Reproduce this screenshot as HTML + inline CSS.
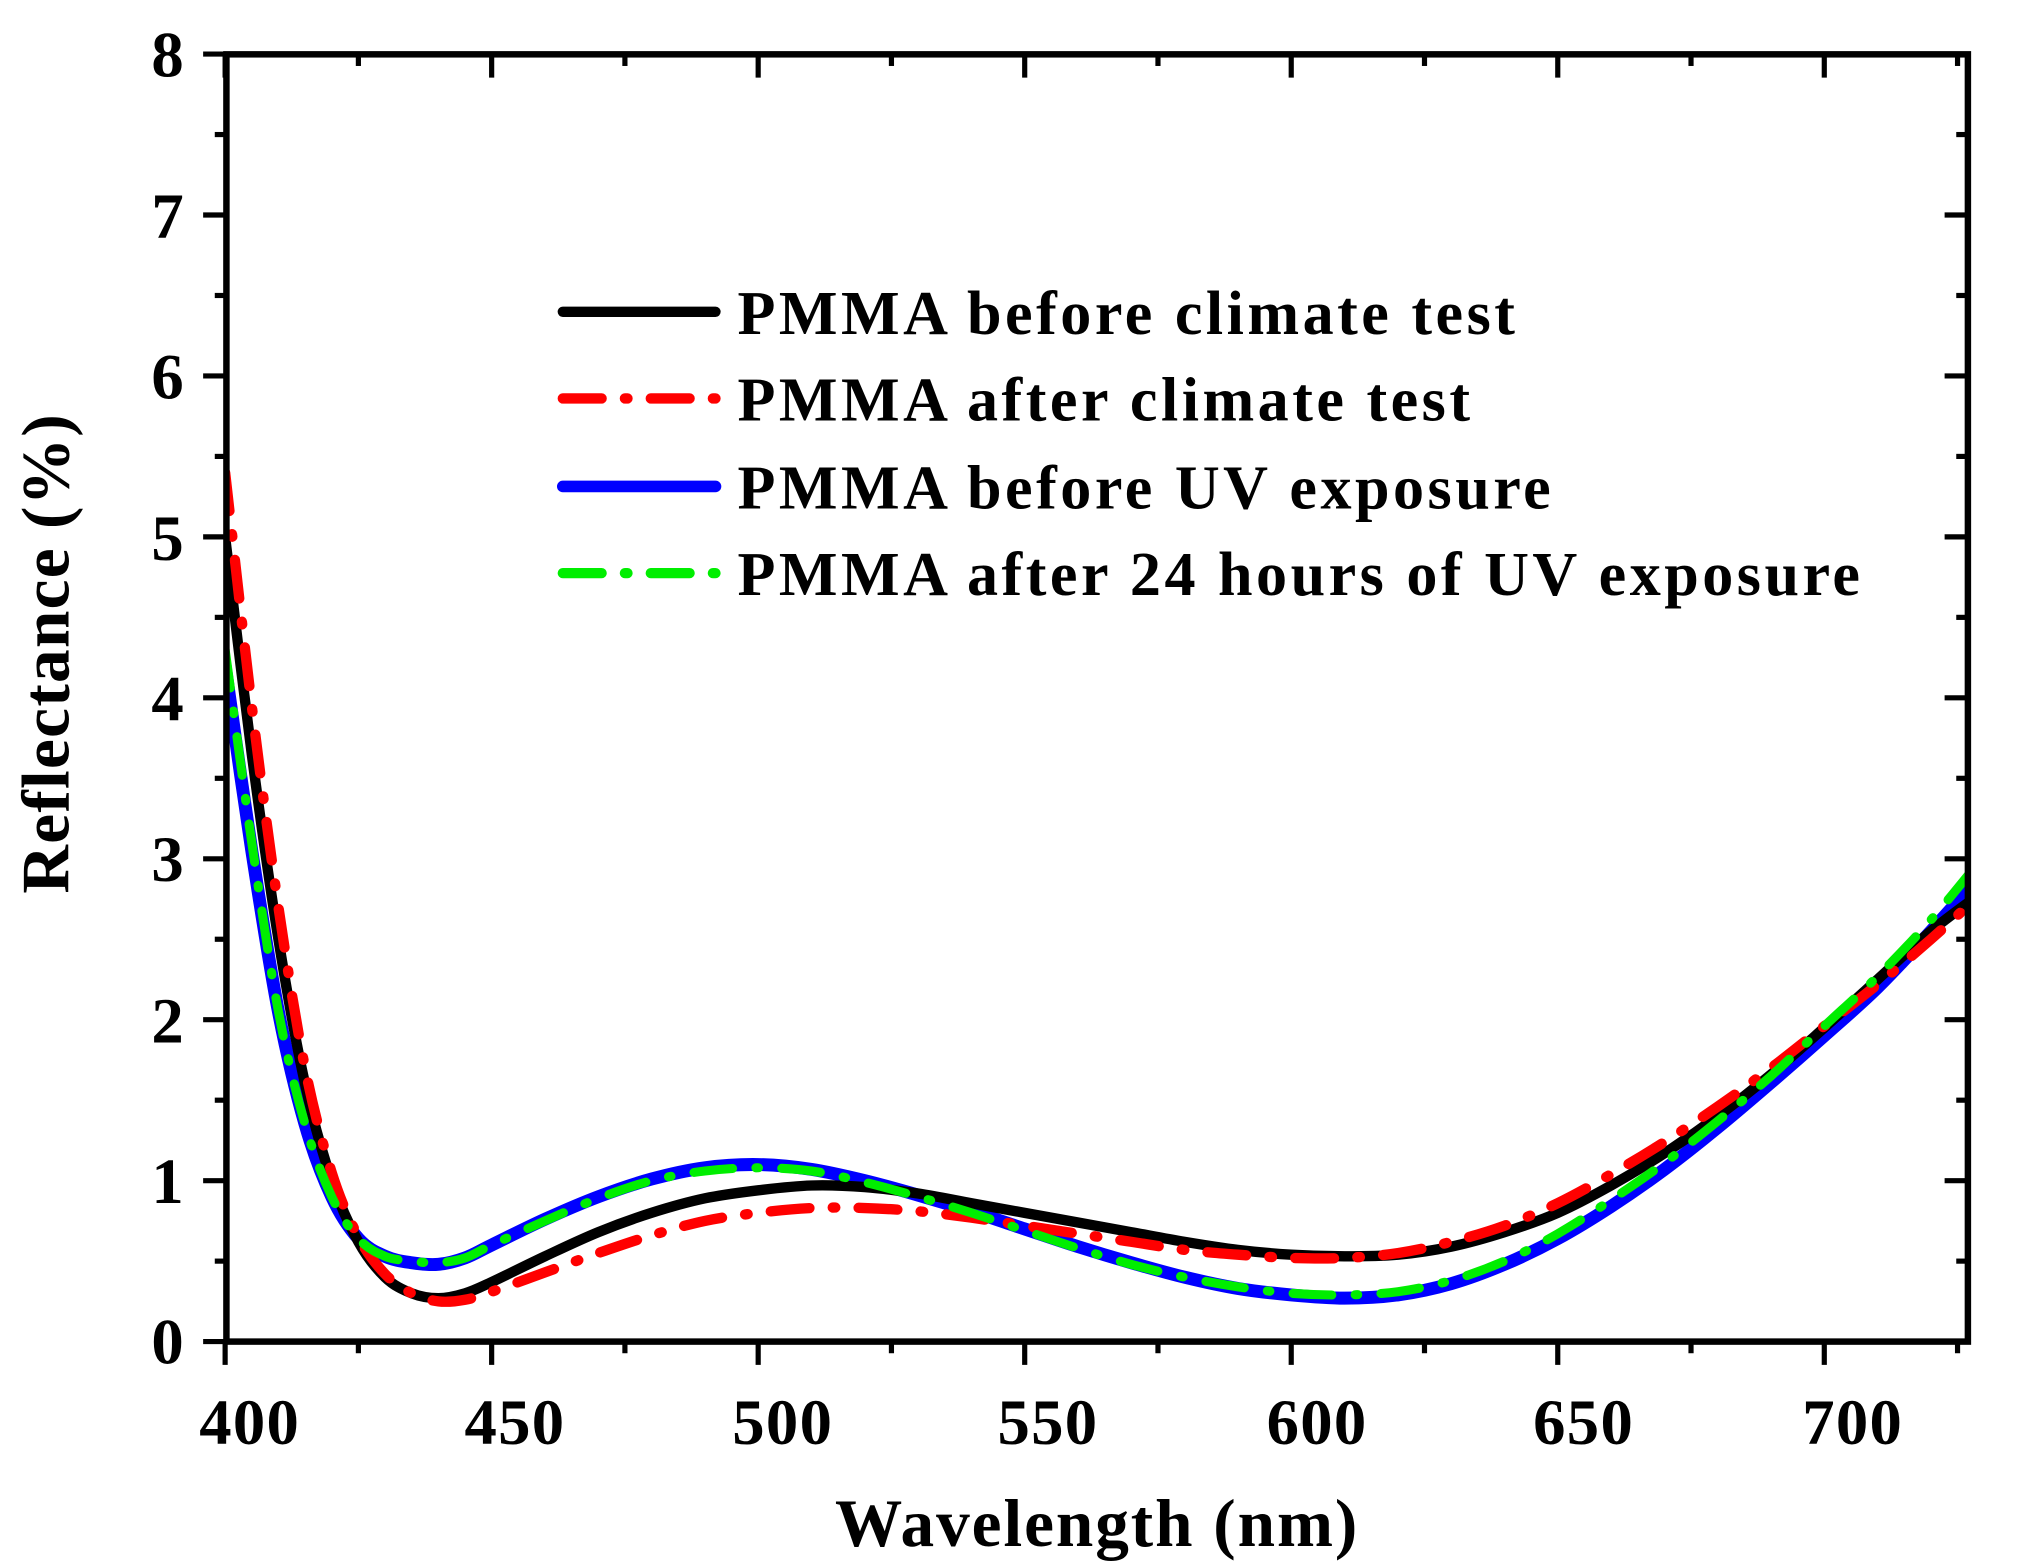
<!DOCTYPE html>
<html><head><meta charset="utf-8"><style>
html,body{margin:0;padding:0;background:#fff;}
svg{display:block;}
text{font-family:"Liberation Serif",serif;font-weight:bold;fill:#000;}
</style></head><body>
<svg id="s" width="2030" height="1568" viewBox="0 0 1569 1212" preserveAspectRatio="none" xmlns="http://www.w3.org/2000/svg">
<defs><clipPath id="c"><rect x="175" y="42" width="1346" height="995"/></clipPath></defs>
<g id="ticks" stroke="#000" stroke-width="4"></g>
<g id="curves" clip-path="url(#c)" fill="none" stroke-linecap="round" stroke-linejoin="round"></g>
<rect x="175" y="42" width="1346" height="995" fill="none" stroke="#000" stroke-width="5"/>
<g font-size="50" text-anchor="end">
<text x="142" y="1054">0</text><text x="142" y="930">1</text><text x="142" y="806">2</text><text x="142" y="681">3</text><text x="142" y="557">4</text><text x="142" y="433">5</text><text x="142" y="308">6</text><text x="142" y="184">7</text><text x="142" y="59">8</text>
</g>
<g font-size="50" text-anchor="middle" letter-spacing="1">
<text x="193" y="1116">400</text><text x="398" y="1116">450</text><text x="605" y="1116">500</text><text x="810" y="1116">550</text><text x="1018" y="1116">600</text><text x="1224" y="1116">650</text><text x="1432" y="1116">700</text>
</g>
<text x="848" y="1195" font-size="52" letter-spacing="1.5" text-anchor="middle">Wavelength (nm)</text>
<text transform="translate(53,505) rotate(-90)" font-size="52" letter-spacing="1" text-anchor="middle">Reflectance (%)</text>
<g stroke-linecap="round">
<line x1="435" y1="241" x2="553" y2="241" stroke="#000" stroke-width="8"/>
<line x1="435" y1="308" x2="553" y2="308" stroke="#f00" stroke-width="8" stroke-dasharray="30 18 2 18"/>
<line x1="435" y1="376" x2="553" y2="376" stroke="#00f" stroke-width="9"/>
<line x1="435" y1="443" x2="553" y2="443" stroke="#0e0" stroke-width="8" stroke-dasharray="30 18 2 18"/>
</g>
<g font-size="48" letter-spacing="2.7">
<text x="570" y="258">PMMA before climate test</text>
<text x="570" y="325">PMMA after climate test</text>
<text x="570" y="393">PMMA before UV exposure</text>
<text x="570" y="460">PMMA after 24 hours of UV exposure</text>
</g>
</svg>
<script>
var X=function(l){return 174+(l-400)*4.12},Y=function(v){return 1037-v*124.4};
var T=document.getElementById('ticks'),h='';
for(var l=400;l<=725;l+=25){var x=X(l),m=(l%50==0);h+='<line x1="'+x+'" y1="1037" x2="'+x+'" y2="'+(1037+(m?18:9))+'"/><line x1="'+x+'" y1="42" x2="'+x+'" y2="'+(42+(m?18:9))+'"/>';}
for(var v=0;v<=8;v+=0.5){var y=Y(v),m=(v%1==0);h+='<line x1="175" y1="'+y+'" x2="'+(175-(m?18:9))+'" y2="'+y+'"/><line x1="1521" y1="'+y+'" x2="'+(1521-(m?18:9))+'" y2="'+y+'"/>';}
T.innerHTML=h;
var L=[400,405,410,415,420,425,430,435,440,445,450,460,470,480,490,500,510,520,530,540,550,560,570,580,590,600,610,620,630,640,650,660,670,680,690,700,710,720,730];
var black=[5.0,3.65,2.5,1.6,1.0,0.62,0.4,0.3,0.27,0.3,0.37,0.53,0.68,0.8,0.89,0.94,0.97,0.96,0.92,0.86,0.8,0.74,0.68,0.62,0.57,0.54,0.53,0.54,0.59,0.68,0.8,0.97,1.17,1.4,1.66,1.95,2.25,2.55,2.8];
var red=[5.4,3.95,2.7,1.7,1.05,0.65,0.42,0.3,0.25,0.26,0.31,0.43,0.55,0.66,0.75,0.8,0.83,0.83,0.81,0.77,0.72,0.67,0.62,0.57,0.54,0.52,0.52,0.55,0.62,0.72,0.86,1.04,1.24,1.46,1.7,1.96,2.22,2.5,2.8];
var blue=[4.2,3.05,2.05,1.35,0.9,0.64,0.53,0.49,0.48,0.52,0.6,0.76,0.9,1.01,1.08,1.1,1.07,1.0,0.91,0.81,0.7,0.59,0.49,0.4,0.33,0.29,0.27,0.29,0.36,0.48,0.64,0.84,1.07,1.33,1.61,1.9,2.2,2.55,2.92];
var green=[4.3,3.1,2.05,1.35,0.9,0.64,0.53,0.5,0.49,0.52,0.6,0.75,0.89,1.0,1.06,1.08,1.06,0.99,0.9,0.8,0.69,0.58,0.48,0.4,0.34,0.3,0.29,0.31,0.38,0.5,0.67,0.88,1.11,1.37,1.65,1.96,2.27,2.62,3.02];
function path(d){var p=L.map(function(l,i){return[X(l),Y(d[i])]});var s='M'+p[0][0]+','+p[0][1];
for(var i=0;i<p.length-1;i++){var p0=p[i-1]||p[i],p1=p[i],p2=p[i+1],p3=p[i+2]||p2;
s+=' C'+(p1[0]+(p2[0]-p0[0])/6)+','+(p1[1]+(p2[1]-p0[1])/6)+' '+(p2[0]-(p3[0]-p1[0])/6)+','+(p2[1]-(p3[1]-p1[1])/6)+' '+p2[0]+','+p2[1];}return s;}
document.getElementById('curves').innerHTML=
'<path d="'+path(blue)+'" stroke="#00f" stroke-width="10"/>'+
'<path d="'+path(black)+'" stroke="#000" stroke-width="8"/>'+
'<path d="'+path(red)+'" stroke="#f00" stroke-width="8" stroke-dasharray="30 18 2 18"/>'+
'<path d="'+path(green)+'" stroke="#0e0" stroke-width="7" stroke-dasharray="30 18 2 18"/>';
</script>
</body></html>
